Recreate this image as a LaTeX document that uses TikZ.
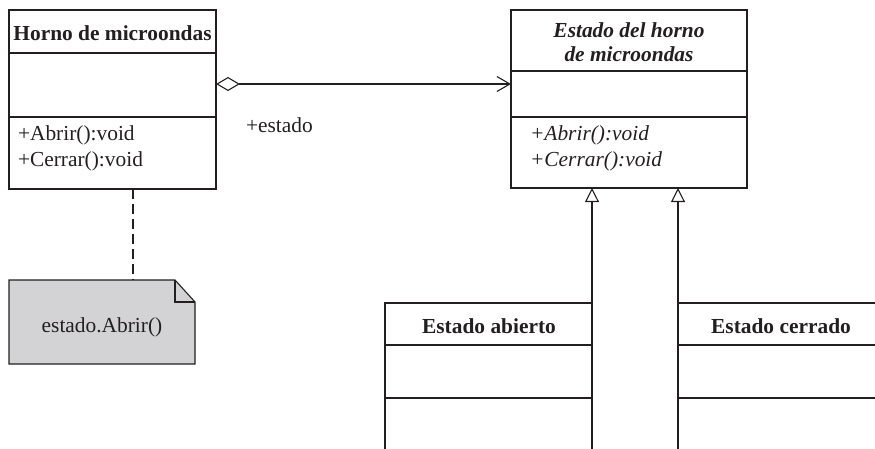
\documentclass[tikz,border=0pt]{standalone}
\usepackage{fontspec}
\setmainfont{Liberation Serif}
\usetikzlibrary{arrows.meta}
\definecolor{ink}{HTML}{231F20}
\definecolor{notegray}{HTML}{D3D3D5}
\begin{document}
\begin{tikzpicture}[x=1pt,y=-1pt,line width=1.1pt,draw=ink,text=ink,
  classbox/.style={draw,anchor=north west,inner sep=0pt,outer sep=0pt},
  txt/.style={inner sep=0pt,outer sep=0pt,font=\fontsize{21.4}{25}\selectfont},
  ctxt/.style={txt,anchor=base},
  ltxt/.style={txt,anchor=base west},
  agg/.style={{Diamond[open,length=24pt,width=14pt]}-{Straight Barb[length=13pt,width=15pt]}},
  gen/.style={-{Triangle[open,length=14pt,width=14pt]}},
  notedash/.style={dash pattern=on 10pt off 5pt}]
\useasboundingbox (0,0) rectangle (875,448);
\clip (0,0) rectangle (875,448);
% Horno de microondas
\node[classbox,minimum width=207pt,minimum height=179pt] (horno) at (9,10) {};
\coordinate (h1) at (0,53);
\coordinate (h2) at (0,117);
\draw (horno.west |- h1) -- (horno.east |- h1);
\draw (horno.west |- h2) -- (horno.east |- h2);
\node[ctxt] (hornoT) at (112.5,40) {\textbf{Horno de microondas}};
\node[ltxt] (hornoA) at (18,140) {+Abrir():void};
\node[ltxt] (hornoC) at (18,166) {+Cerrar():void};
% Estado del horno
\node[classbox,minimum width=236pt,minimum height=178pt] (estado) at (511,10) {};
\coordinate (e1) at (0,71);
\coordinate (e2) at (0,117);
\draw (estado.west |- e1) -- (estado.east |- e1);
\draw (estado.west |- e2) -- (estado.east |- e2);
\node[ctxt] (estadoT1) at (629,37) {\textbf{\textit{Estado del horno}}};
\node[ctxt] (estadoT2) at (629,61) {\textbf{\textit{de microondas}}};
\node[ltxt] (estadoA) at (530,140) {\textit{+Abrir():void}};
\node[ltxt] (estadoC) at (530,166) {\textit{+Cerrar():void}};
% aggregation
\coordinate (aggy) at (0,84);
\draw[agg] (horno.east |- aggy) -- (estado.west |- aggy);
\node[ltxt] (rol) at (246,132) {+estado};
% note
\coordinate (notetop) at (133,280);
\draw[fill=notegray] (9,280) -- (175,280) -- (195,302) -- (195,364) -- (9,364) -- cycle;
\draw (175,280) -- (175,302) -- (195,302);
\node[ctxt] (noteT) at (102,332) {estado.Abrir()};
\draw[notedash] (horno.south -| notetop) -- (notetop);
% subclasses
\node[classbox,minimum width=207pt,minimum height=180pt] (abierto) at (385,303) {};
\node[classbox,minimum width=230pt,minimum height=180pt] (cerrado) at (678,303) {};
\coordinate (s1) at (0,345);
\coordinate (s2) at (0,398);
\draw (abierto.west |- s1) -- (abierto.east |- s1);
\draw (abierto.west |- s2) -- (abierto.east |- s2);
\draw (cerrado.west |- s1) -- (cerrado.east |- s1);
\draw (cerrado.west |- s2) -- (cerrado.east |- s2);
\node[ctxt] (abiertoT) at (489,333) {\textbf{Estado abierto}};
\node[ctxt] (cerradoT) at (781,333) {\textbf{Estado cerrado}};
\draw[gen] (abierto.north east) -- (estado.south -| abierto.north east);
\draw[gen] (cerrado.north west) -- (estado.south -| cerrado.north west);
\end{tikzpicture}
\end{document}
